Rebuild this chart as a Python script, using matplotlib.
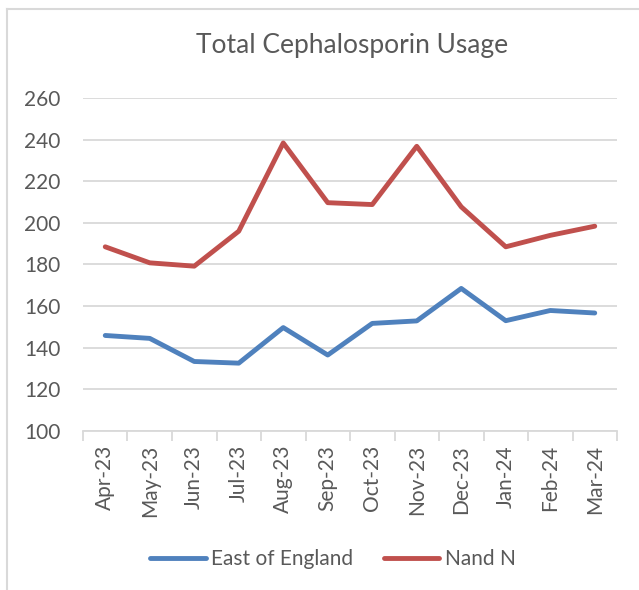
import numpy as np
import matplotlib.pyplot as plt
from matplotlib.lines import Line2D

# Data
months = ['Apr-23', 'May-23', 'Jun-23', 'Jul-23', 'Aug-23', 'Sep-23',
          'Oct-23', 'Nov-23', 'Dec-23', 'Jan-24', 'Feb-24', 'Mar-24']
east_of_england = [145.9, 144.5, 133.4, 132.6, 149.7, 136.5,
                   151.7, 152.9, 168.5, 153.0, 157.9, 156.7]
nand_n = [188.5, 180.8, 179.2, 196.0, 238.4, 209.7,
          208.8, 236.8, 207.7, 188.5, 194.0, 198.4]

text_col = '#595959'
grid_col = '#D9D9D9'
plt.rcParams['font.family'] = ['Lato', 'DejaVu Sans']

W, H = 639, 590
fig = plt.figure(figsize=(W / 100, H / 100), dpi=100)
ax = fig.add_axes([83 / W, 1 - 431 / H, 534 / W, 333 / H])

x = np.arange(len(months))
ax.plot(x, east_of_england, color='#4F81BD', linewidth=3.5,
        solid_capstyle='round', solid_joinstyle='round',
        label='East of England')
ax.plot(x, nand_n, color='#C0504D', linewidth=3.5,
        solid_capstyle='round', solid_joinstyle='round', label='Nand N')

ax.set_xlim(-0.5, len(months) - 0.5)
ax.set_ylim(100, 260)
ax.set_yticks(np.arange(100, 261, 20))
ax.yaxis.grid(True, color=grid_col, linewidth=1.3)
ax.set_axisbelow(True)

ax.set_xticks(x)
ax.set_xticklabels(months, rotation=90)
ax.set_xticks(np.arange(-0.5, len(months), 1), minor=True)
ax.tick_params(axis='x', which='major', length=0, pad=10,
               labelsize=15, labelcolor=text_col)
ax.tick_params(axis='x', which='minor', length=7, color=grid_col, width=1.3)
ax.tick_params(axis='y', length=0, pad=16, labelsize=15,
               labelcolor=text_col)

for side in ['left', 'right', 'top']:
    ax.spines[side].set_visible(False)
ax.spines['bottom'].set_color(grid_col)
ax.spines['bottom'].set_linewidth(1.3)

fig.text(352 / W, 1 - 46 / H, 'Total Cephalosporin Usage', ha='center',
         va='center', fontsize=19, color=text_col)

fig.legend(loc='center', bbox_to_anchor=(333 / W, 1 - 559 / H), ncol=2,
           frameon=False, fontsize=15, labelcolor=text_col,
           handlelength=2.65, handletextpad=0.25, columnspacing=1.5)

# chart border (left and top edges visible)
fig.add_artist(Line2D([6.5 / W, 6.5 / W], [0, 1 - 9 / H],
                      transform=fig.transFigure, color=grid_col, lw=1.5))
fig.add_artist(Line2D([6.5 / W, 1], [1 - 9 / H, 1 - 9 / H],
                      transform=fig.transFigure, color=grid_col, lw=1.5))

fig.savefig('out.png', dpi=100)
